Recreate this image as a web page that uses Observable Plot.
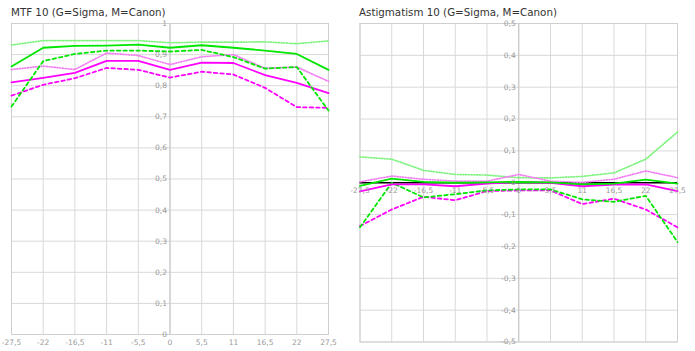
<!DOCTYPE html>
<html>
<head>
<meta charset="utf-8">
<script src="https://cdn.jsdelivr.net/npm/d3@7"></script>
<script src="https://cdn.jsdelivr.net/npm/@observablehq/plot@0.6"></script>
<style>
  html, body { margin: 0; padding: 0; background: #fff; }
  #wrap { position: relative; width: 695px; height: 351px; overflow: hidden; font-family: "DejaVu Sans", sans-serif; }
  .panel { position: absolute; top: 0; }
  .title { position: absolute; top: 6px; font-size: 10.3px; color: #333; white-space: nowrap; font-family: "DejaVu Sans", sans-serif; }
  svg { display: block; overflow: visible; }
</style>
</head>
<body>
<div id="wrap">
  <div class="panel" id="left"></div>
  <div class="panel" id="right"></div>
  <div class="title" style="left:11px">MTF 10 (G=Sigma, M=Canon)</div>
  <div class="title" style="left:359px">Astigmatism 10 (G=Sigma, M=Canon)</div>
</div>
<script>
// ---- data ----
const positions = [-27.5, -22, -16.5, -11, -5.5, 0, 5.5, 11, 16.5, 22, 27.5];
const xTickLabels = ["-27,5", "-22", "-16,5", "-11", "-5,5", "0", "5,5", "11", "16,5", "22", "27,5"];

const mtfTicks = [0, 0.1, 0.2, 0.3, 0.4, 0.5, 0.6, 0.7, 0.8, 0.9, 1];
const mtfTickLabels = ["0", "0,1", "0,2", "0,3", "0,4", "0,5", "0,6", "0,7", "0,8", "0,9", "1"];
const astTicks = [-0.5, -0.4, -0.3, -0.2, -0.1, 0, 0.1, 0.2, 0.3, 0.4, 0.5];
const astTickLabels = ["-0,5", "-0,4", "-0,3", "-0,2", "-0,1", "0", "0,1", "0,2", "0,3", "0,4", "0,5"];

// MTF 10 — Sigma (green)
const mtfSigmaDotted = [0.931, 0.945, 0.945, 0.945, 0.945, 0.938, 0.940, 0.940, 0.941, 0.935, 0.944];
const mtfSigmaSolid  = [0.862, 0.922, 0.928, 0.929, 0.932, 0.922, 0.930, 0.922, 0.913, 0.902, 0.851];
const mtfSigmaDashed = [0.733, 0.879, 0.902, 0.913, 0.913, 0.910, 0.915, 0.892, 0.855, 0.860, 0.720];
// MTF 10 — Canon (magenta)
const mtfCanonDotted = [0.852, 0.863, 0.852, 0.905, 0.897, 0.868, 0.893, 0.900, 0.856, 0.860, 0.814];
const mtfCanonSolid  = [0.811, 0.825, 0.841, 0.880, 0.880, 0.851, 0.874, 0.873, 0.834, 0.809, 0.776];
const mtfCanonDashed = [0.768, 0.803, 0.824, 0.857, 0.851, 0.826, 0.845, 0.836, 0.793, 0.731, 0.729];

// Astigmatism 10 — Sigma (green)
const astSigmaDotted = [0.081, 0.074, 0.039, 0.026, 0.024, 0.016, 0.015, 0.020, 0.031, 0.074, 0.159];
const astSigmaSolid  = [-0.010, 0.013, 0.003, 0.000, 0.001, 0.003, 0.001, -0.005, -0.003, 0.010, -0.003];
const astSigmaDashed = [-0.140, 0.000, -0.046, -0.036, -0.024, -0.021, -0.021, -0.052, -0.060, -0.041, -0.186];
// Astigmatism 10 — Canon (magenta)
const astCanonDotted = [0.003, 0.021, 0.011, 0.005, 0.005, 0.026, 0.005, 0.001, 0.011, 0.037, 0.016];
const astCanonSolid  = [-0.027, -0.005, -0.005, -0.011, -0.003, 0.003, 0.000, -0.011, -0.006, -0.005, -0.026];
const astCanonDashed = [-0.136, -0.084, -0.044, -0.055, -0.026, -0.024, -0.024, -0.067, -0.050, -0.084, -0.140];

// ---- styles ----
const GREEN = "#00e600", GREEN_LIGHT = "#7ef37e", MAGENTA = "#ff00ff", MAGENTA_LIGHT = "#f47ef4";
const styleDotted = {strokeWidth: 1.7, strokeDasharray: "1,1.7"};
const styleSolid = {strokeWidth: 1.8};
const styleDashed = {strokeWidth: 1.8, strokeDasharray: "3.5,3"};

function series(values) { return positions.map((x, i) => ({x, y: values[i]})); }
function lineMarks(list) {
  return list.map(([vals, color, st]) => Plot.line(series(vals), {x: "x", y: "y", stroke: color, ...st}));
}

const GRID = "#d9d9d9";
const LABEL = "#999";

function panel({width, height, margins, yDomain, yTicks, yLabels, xLabelY, zeroLine, lines}) {
  const xt = positions.map((x, i) => ({x, label: xTickLabels[i]}));
  const yt = yTicks.map((y, i) => ({y, label: yLabels[i]}));
  return Plot.plot({
    width, height,
    ...margins,
    x: {domain: [-27.5, 27.5], axis: null},
    y: {domain: yDomain, axis: null},
    style: {fontFamily: "DejaVu Sans, sans-serif", background: "transparent", overflow: "visible"},
    marks: [
      Plot.ruleX(positions, {stroke: GRID, strokeWidth: 1}),
      Plot.ruleY(yTicks, {stroke: GRID, strokeWidth: 1}),
      Plot.ruleX([0], {stroke: "#c4c4c4", strokeWidth: 1}),
      Plot.frame({stroke: "#cfcfcf"}),
      ...(zeroLine ? [Plot.ruleY([0], {stroke: "#000", strokeWidth: 1.3})] : []),
      ...lineMarks(lines),
      Plot.text(yt, {x: 0, y: "y", text: "label", textAnchor: "end", dx: -3, fill: LABEL, fontSize: 7.5}),
      Plot.text(xt, {x: "x", y: xLabelY, text: "label", textAnchor: "middle", dy: 8, fill: LABEL, fontSize: 7.5})
    ]
  });
}

const left = panel({
  width: 347, height: 351,
  margins: {marginLeft: 11, marginRight: 19, marginTop: 23, marginBottom: 17},
  yDomain: [0, 1], yTicks: mtfTicks, yLabels: mtfTickLabels, xLabelY: 0, zeroLine: false,
  lines: [
    [mtfSigmaDotted, GREEN_LIGHT, styleDotted],
    [mtfCanonDotted, MAGENTA_LIGHT, styleDotted],
    [mtfCanonDashed, MAGENTA, styleDashed],
    [mtfCanonSolid, MAGENTA, styleSolid],
    [mtfSigmaDashed, GREEN, styleDashed],
    [mtfSigmaSolid, GREEN, styleSolid]
  ]
});
document.getElementById("left").appendChild(left);

const right = panel({
  width: 348, height: 351,
  margins: {marginLeft: 12.5, marginRight: 18, marginTop: 23, marginBottom: 9.5},
  yDomain: [-0.5, 0.5], yTicks: astTicks, yLabels: astTickLabels, xLabelY: 0, zeroLine: true,
  lines: [
    [astSigmaDotted, GREEN_LIGHT, styleDotted],
    [astCanonDotted, MAGENTA_LIGHT, styleDotted],
    [astCanonDashed, MAGENTA, styleDashed],
    [astSigmaDashed, GREEN, styleDashed],
    [astCanonSolid, MAGENTA, styleSolid],
    [astSigmaSolid, GREEN, styleSolid]
  ]
});
const rp = document.getElementById("right");
rp.style.left = "347px";
rp.appendChild(right);
</script>
</body>
</html>
